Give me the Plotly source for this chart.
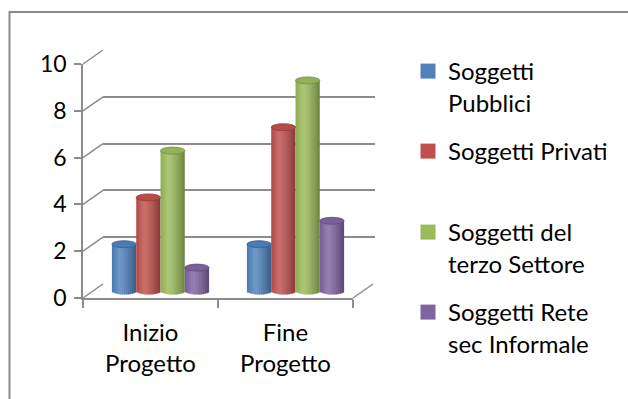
import math
import plotly.graph_objects as go

# ---------------- data ----------------
categories = ["Inizio<br>Progetto", "Fine<br>Progetto"]
series_names = ["Soggetti<br>Pubblici", "Soggetti Privati",
                "Soggetti del<br>terzo Settore", "Soggetti Rete<br>sec Informale"]
pubblici = [2, 2]
privati = [4, 7]
terzo_settore = [6, 9]
rete_informale = [1, 3]
y_ticks = [0, 2, 4, 6, 8, 10]

series_values = [pubblici, privati, terzo_settore, rete_informale]
base_colors = [(79, 129, 189), (192, 80, 77), (155, 187, 89), (128, 100, 162)]

# ---------------- geometry (pixels) ----------------
W, H = 628, 399
FX0, FX1 = 83, 353          # front floor edge
FY0, FY10 = 298, 64         # front value 0 / 10
DX, DY = 20, 14             # depth offset of back wall
UNIT = (FY0 - FY10) / 10.0  # px per value unit
YMIN = -0.5


def pxx(p):
    return p / W


def pyy(p):
    return 1 - p / H


def hexc(c):
    return "#%02x%02x%02x" % tuple(max(0, min(255, int(round(v)))) for v in c)


def mix(a, b, t):
    return tuple(a[i] + (b[i] - a[i]) * t for i in range(3))


def shade(base, t):
    # cylinder shading profile, t in [0,1] left->right
    left = mix(base, (0, 0, 0), 0.08)
    hi = mix(base, (255, 255, 255), 0.18)
    right = mix(base, (0, 0, 0), 0.30)
    if t < 0.32:
        return mix(left, hi, t / 0.32)
    return mix(hi, right, ((t - 0.32) / 0.68) ** 1.3)


fig = go.Figure()

# ---- back wall gridlines (subplot x/y, drawn first) ----
fig.add_trace(go.Scatter(x=[None], y=[None], xaxis="x", yaxis="y",
                         showlegend=False, hoverinfo="skip"))

# ---- bars (mid-depth subplot x2/y2) ----
x_idx = list(range(len(categories)))
BW = 0.18
N = 12
HCAP = 3.5  # px half-height of ellipses
hd = HCAP / UNIT
shapes = []
for k, (vals, base) in enumerate(zip(series_values, base_colors)):
    bl = -0.36 + k * BW
    br = bl + BW
    for j in range(N):
        left = bl + j * BW / N
        wdt = min(BW / N * 1.5, br - left)
        t = (j + 0.5) / N
        tt = t * 2 - 1
        b = -hd * math.sqrt(max(0.0, 1 - tt * tt))
        fig.add_trace(go.Bar(
            x=x_idx, y=[v - b for v in vals], base=[b] * len(vals),
            offset=left, width=wdt,
            marker=dict(color=hexc(shade(base, t)), line=dict(width=0)),
            xaxis="x2", yaxis="y2", showlegend=False, hoverinfo="skip",
        ))
    cap = hexc(mix(base, (0, 0, 0), 0.05))
    rim = hexc(mix(base, (0, 0, 0), 0.25))
    for xi, v in zip(x_idx, vals):
        shapes.append(dict(
            type="circle", xref="x2", yref="y2",
            x0=xi + bl, x1=xi + br, ysizemode="pixel", yanchor=v,
            y0=-HCAP, y1=HCAP, fillcolor=cap, line=dict(color=rim, width=0.8),
            layer="above",
        ))

# ---- legend entries (one legend per item, placed like Excel) ----
legend_tops = [49, 129, 210, 290]
for k, (name, base) in enumerate(zip(series_names, base_colors)):
    lg = "legend" if k == 0 else "legend%d" % (k + 1)
    fig.add_trace(go.Scatter(
        x=[None], y=[None], mode="markers", name=name,
        marker=dict(symbol="square", size=15, color=hexc(base)),
        xaxis="x2", yaxis="y2", legend=lg, showlegend=True,
    ))

GRID = "#8c8c8c"
# left wall diagonals and right floor edge
for v in y_ticks:
    shapes.append(dict(type="line", xref="paper", yref="paper",
                       x0=pxx(FX0), y0=pyy(FY0 - v * UNIT),
                       x1=pxx(FX0 + DX), y1=pyy(FY0 - DY - v * UNIT),
                       line=dict(color=GRID, width=1.5), layer="below"))
shapes.append(dict(type="line", xref="paper", yref="paper",
                   x0=pxx(FX1), y0=pyy(FY0), x1=pxx(FX1 + DX), y1=pyy(FY0 - DY),
                   line=dict(color=GRID, width=1.5), layer="below"))
# outer chart border
shapes.append(dict(type="rect", xref="paper", yref="paper",
                   x0=pxx(9.5), y0=-0.05, x1=1.05, y1=pyy(12),
                   line=dict(color="#8a8a8a", width=2), layer="below"))

FONT = "Lato"
legends = {}
for k, top in enumerate(legend_tops):
    key = "legend" if k == 0 else "legend%d" % (k + 1)
    legends[key] = dict(x=pxx(408), y=pyy(top), xanchor="left", yanchor="top",
                        font=dict(family=FONT, size=24, color="#000000"),
                        bgcolor="rgba(0,0,0,0)", borderwidth=0, valign="top",
                        itemclick=False, itemdoubleclick=False)

fig.update_layout(
    width=W, height=H, margin=dict(l=0, r=0, t=0, b=0, autoexpand=False),
    paper_bgcolor="white", plot_bgcolor="rgba(0,0,0,0)",
    barmode="overlay", shapes=shapes,
    font=dict(family=FONT, color="#000000"),
    # back wall
    xaxis=dict(domain=[pxx(FX0 + DX), pxx(375)], range=[0, 1], visible=False,
               fixedrange=True),
    yaxis=dict(domain=[pyy(FY0 - DY), pyy(FY10 - DY)], range=[0, 10],
               tickvals=y_ticks, showgrid=True, gridcolor=GRID, gridwidth=1.5,
               zeroline=False, showline=False, showticklabels=False,
               ticks="", fixedrange=True, anchor="x"),
    # bars at mid depth
    xaxis2=dict(domain=[pxx(FX0 + DX / 2), pxx(FX1 + DX / 2)], range=[-0.5, 1.5],
                visible=False, anchor="y2", fixedrange=True),
    yaxis2=dict(domain=[pyy(FY0 - DY / 2 - YMIN * UNIT), pyy(FY10 - DY / 2)],
                range=[YMIN, 10], visible=False, anchor="x2", fixedrange=True),
    # front axes with labels
    xaxis3=dict(domain=[pxx(FX0), pxx(FX1)], anchor="y3", type="category",
                range=[-0.5, 1.5], tickmode="array", tickvals=categories,
                showline=True, linecolor=GRID, linewidth=1.5,
                ticks="outside", tickson="boundaries", ticklen=8,
                tickcolor=GRID, tickwidth=1.5, showgrid=False,
                ticklabelstandoff=12,
                tickfont=dict(family=FONT, size=24, color="#000000"),
                fixedrange=True, automargin=False),
    yaxis3=dict(domain=[pyy(FY0), pyy(FY10)], anchor="x3", range=[0, 10],
                tickvals=y_ticks, showline=True, linecolor=GRID, linewidth=1.5,
                ticks="outside", ticklen=7, tickcolor=GRID, tickwidth=1.5,
                showgrid=False, zeroline=False, ticklabelstandoff=3,
                tickfont=dict(family=FONT, size=23, color="#000000"),
                fixedrange=True, automargin=False),
    **legends,
)

# category axis trace (invisible) to give x3/y3 a subplot
fig.add_trace(go.Scatter(x=categories, y=[None, None], xaxis="x3", yaxis="y3",
                         showlegend=False, hoverinfo="skip", mode="markers"))

fig.write_html("out.html")
